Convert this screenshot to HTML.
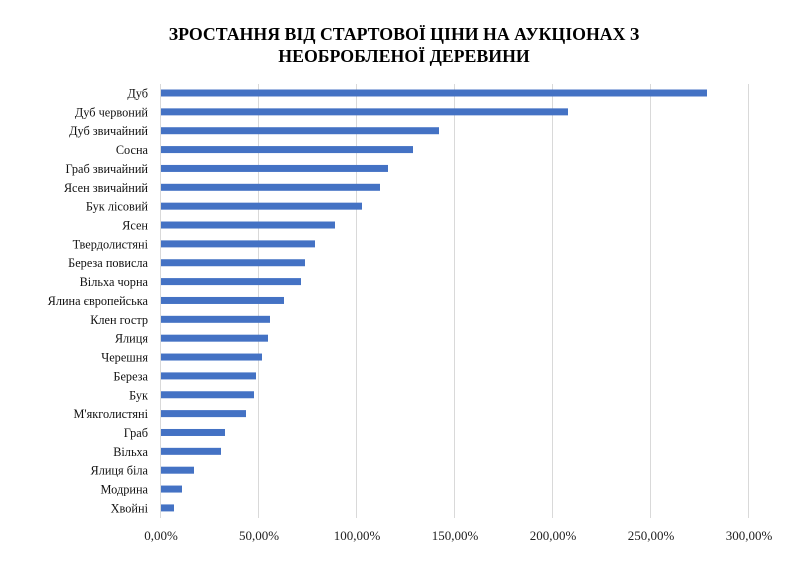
<!DOCTYPE html>
<html><head><meta charset="utf-8"><style>body{margin:0;background:#fff}</style></head><body>
<svg width="809" height="565" xmlns="http://www.w3.org/2000/svg" font-family="Liberation Serif, serif">
<rect width="809" height="565" fill="#fff"/>
<text x="404" y="40" text-anchor="middle" font-weight="bold" font-size="17.8">ЗРОСТАННЯ ВІД СТАРТОВОЇ ЦІНИ НА АУКЦІОНАХ З</text>
<text x="404" y="62" text-anchor="middle" font-weight="bold" font-size="17.8">НЕОБРОБЛЕНОЇ ДЕРЕВИНИ</text>
<g stroke="#d9d9d9" stroke-width="1">
<line x1="160.5" y1="84" x2="160.5" y2="518"/><line x1="258.5" y1="84" x2="258.5" y2="518"/><line x1="356.5" y1="84" x2="356.5" y2="518"/><line x1="454.5" y1="84" x2="454.5" y2="518"/><line x1="552.5" y1="84" x2="552.5" y2="518"/><line x1="650.5" y1="84" x2="650.5" y2="518"/><line x1="748.5" y1="84" x2="748.5" y2="518"/>
</g>
<g font-size="13" text-anchor="middle" fill="#222">
<text x="161" y="540">0,00%</text><text x="259" y="540">50,00%</text><text x="357" y="540">100,00%</text><text x="455" y="540">150,00%</text><text x="553" y="540">200,00%</text><text x="651" y="540">250,00%</text><text x="749" y="540">300,00%</text>
</g>
<g id="bars" fill="#4472c4"></g>
<g id="labels" font-size="12.3" text-anchor="end" fill="#111"></g>
<script>
var d=[["Дуб",707],["Дуб червоний",568],["Дуб звичайний",439],["Сосна",413],["Граб звичайний",388],["Ясен звичайний",380],["Бук лісовий",362],["Ясен",335],["Твердолистяні",315],["Береза повисла",305],["Вільха чорна",301],["Ялина європейська",284],["Клен гостр",270],["Ялиця",268],["Черешня",262],["Береза",256],["Бук",254],["М'якголистяні",246],["Граб",225],["Вільха",221],["Ялиця біла",194],["Модрина",182],["Хвойні",174]];
var ns="http://www.w3.org/2000/svg",b=document.getElementById("bars"),l=document.getElementById("labels");
d.forEach(function(r,i){var y=93+i*18.86;var re=document.createElementNS(ns,"rect");re.setAttribute("x",161);re.setAttribute("y",y-3.5);re.setAttribute("width",r[1]-161);re.setAttribute("height",7);b.appendChild(re);
var t=document.createElementNS(ns,"text");t.setAttribute("x",148);t.setAttribute("y",y+4.5);t.textContent=r[0];l.appendChild(t);});
</script>
</svg>
</body></html>
